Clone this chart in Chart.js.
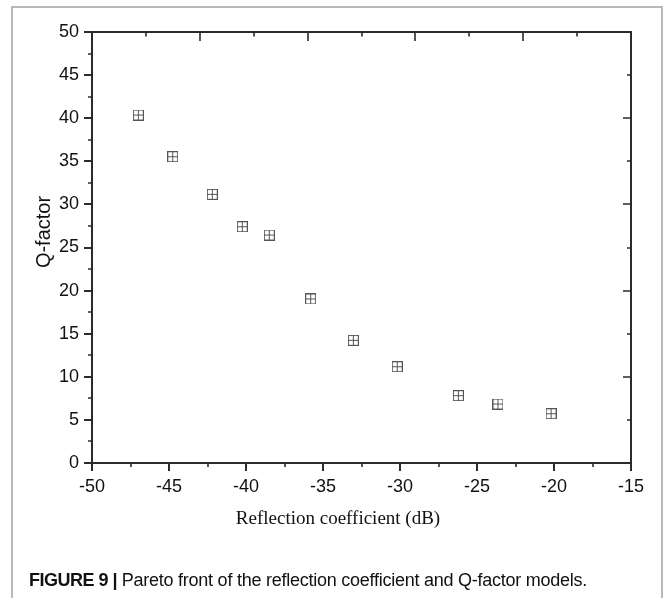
<!DOCTYPE html>
<html>
<head>
<meta charset="utf-8">
<script src="https://cdn.jsdelivr.net/npm/chart.js@4/dist/chart.umd.min.js"></script>
<style>
  html, body { margin: 0; padding: 0; background: #fff; }
  #wrap { position: relative; width: 663px; height: 598px; overflow: hidden; }
  #frame { position: absolute; left: 11px; top: 6px; width: 648px; height: 600px;
           border-left: 2px solid #b8b8b8; border-top: 2px solid #b8b8b8; border-right: 2px solid #b8b8b8; }
  canvas { position: absolute; left: 0; top: 0; }
  #cap { position: absolute; left: 29px; top: 570px; font-family: "Liberation Sans", Arial, sans-serif;
         font-size: 18px; color: #111; letter-spacing: -0.25px; white-space: nowrap; }
  #cap b { letter-spacing: -0.5px; }
</style>
</head>
<body>
<div id="wrap">
  <div id="frame"></div>
  <canvas id="c" width="663" height="598"></canvas>
  <div id="cap"><b>FIGURE 9 |</b> Pareto front of the reflection coefficient and Q-factor models.</div>
</div>
<script>
// ---- data ----
const reflectionDb = [-46.99, -44.76, -42.19, -40.24, -38.49, -35.80, -33.03, -30.18, -26.21, -23.64, -20.19];
const qFactor      = [40.37, 35.53, 31.17, 27.41, 26.45, 19.03, 14.23, 11.17, 7.81, 6.84, 5.72];
const xTickLabels  = [-50, -45, -40, -35, -30, -25, -20, -15];
const yTickLabels  = [0, 5, 10, 15, 20, 25, 30, 35, 40, 45, 50];
const xTitle = 'Reflection coefficient (dB)';
const yTitle = 'Q-factor';

// ---- marker: square with a plus inside ----
function makeMarker() {
  const m = document.createElement('canvas');
  m.width = 11; m.height = 11;
  const g = m.getContext('2d');
  g.strokeStyle = '#555';
  g.lineWidth = 1.1;
  g.strokeRect(0.5, 0.5, 10, 10);
  g.lineWidth = 1;
  g.beginPath();
  g.moveTo(5.5, 1); g.lineTo(5.5, 10);
  g.moveTo(1, 5.5); g.lineTo(10, 5.5);
  g.stroke();
  return m;
}
const marker = makeMarker();

const points = reflectionDb.map((x, i) => ({ x: x, y: qFactor[i] }));

const AXIS = '#2b2b2b';
const SANS = '"Liberation Sans", Arial, sans-serif';

const framePlugin = {
  id: 'framePlugin',
  afterDraw(chart) {
    const ctx = chart.ctx;
    const { left, right, top, bottom } = chart.chartArea;
    const xs = chart.scales.x, ys = chart.scales.y;
    ctx.save();
    ctx.strokeStyle = AXIS;
    ctx.lineWidth = 2;
    ctx.lineCap = 'butt';
    // top & right frame lines
    ctx.beginPath();
    ctx.moveTo(left - 1, top); ctx.lineTo(right + 1, top);
    ctx.moveTo(right, top); ctx.lineTo(right, bottom);
    ctx.stroke();
    ctx.lineWidth = 1.6;
    ctx.beginPath();
    // bottom minor ticks (outward)
    for (let i = 0; i < xTickLabels.length - 1; i++) {
      const v = (xTickLabels[i] + xTickLabels[i + 1]) / 2;
      const px = Math.round(xs.getPixelForValue(v));
      ctx.moveTo(px, bottom); ctx.lineTo(px, bottom + 4);
    }
    // left minor ticks (outward)
    for (let i = 0; i < yTickLabels.length - 1; i++) {
      const v = (yTickLabels[i] + yTickLabels[i + 1]) / 2;
      const py = Math.round(ys.getPixelForValue(v));
      ctx.moveTo(left - 4, py); ctx.lineTo(left, py);
    }
    // top axis ticks (inward): ten divisions of the x range
    const xmin = xs.min, xmax = xs.max;
    for (let k = 1; k < 10; k++) {
      const v = xmin + (xmax - xmin) * k / 10;
      const px = Math.round(xs.getPixelForValue(v));
      const len = (k % 2 === 0) ? 9 : 4.5;
      ctx.moveTo(px, top); ctx.lineTo(px, top + len);
    }
    // right axis ticks (inward)
    for (let i = 1; i < yTickLabels.length - 1; i++) {
      const v = yTickLabels[i];
      const py = Math.round(ys.getPixelForValue(v));
      const len = (v % 10 === 0) ? 8 : 4;
      ctx.moveTo(right - len, py); ctx.lineTo(right, py);
    }
    ctx.stroke();

    // axis titles
    ctx.fillStyle = '#111';
    ctx.textAlign = 'center';
    ctx.textBaseline = 'middle';
    ctx.font = '19px "Liberation Serif", "Times New Roman", serif';
    ctx.fillText(xs.options.title.text, 338, 519);
    ctx.save();
    ctx.translate(44, 232);
    ctx.rotate(-Math.PI / 2);
    ctx.font = '20px ' + SANS;
    ctx.fillText(ys.options.title.text, 0, 0);
    ctx.restore();
    ctx.restore();
  }
};

new Chart(document.getElementById('c'), {
  type: 'scatter',
  data: {
    datasets: [{
      data: points,
      pointStyle: marker,
      pointRadius: 5,
      pointHoverRadius: 5,
      showLine: false
    }]
  },
  options: {
    responsive: false,
    animation: false,
    events: [],
    layout: { padding: { left: 0, top: 32, right: 32, bottom: 0 } },
    plugins: { legend: { display: false }, tooltip: { enabled: false }, title: { display: false } },
    scales: {
      x: {
        type: 'linear',
        min: xTickLabels[0],
        max: xTickLabels[xTickLabels.length - 1],
        afterBuildTicks: (s) => { s.ticks = xTickLabels.map(v => ({ value: v })); },
        afterFit: (s) => { s.height = 135; },
        ticks: { color: '#111', font: { family: SANS, size: 18 }, padding: 5, maxRotation: 0, autoSkip: false },
        grid: { display: true, drawOnChartArea: false, drawTicks: true, tickLength: 8, color: AXIS, lineWidth: 2 },
        border: { display: true, color: AXIS, width: 2 },
        title: { display: false, text: xTitle }
      },
      y: {
        type: 'linear',
        min: yTickLabels[0],
        max: yTickLabels[yTickLabels.length - 1],
        afterBuildTicks: (s) => { s.ticks = yTickLabels.map(v => ({ value: v })); },
        afterFit: (s) => { s.width = 92; },
        ticks: { color: '#111', font: { family: SANS, size: 18 }, padding: 5, autoSkip: false },
        grid: { display: true, drawOnChartArea: false, drawTicks: true, tickLength: 8, color: AXIS, lineWidth: 2 },
        border: { display: true, color: AXIS, width: 2 },
        title: { display: false, text: yTitle }
      }
    }
  },
  plugins: [framePlugin]
});
</script>
</body>
</html>
